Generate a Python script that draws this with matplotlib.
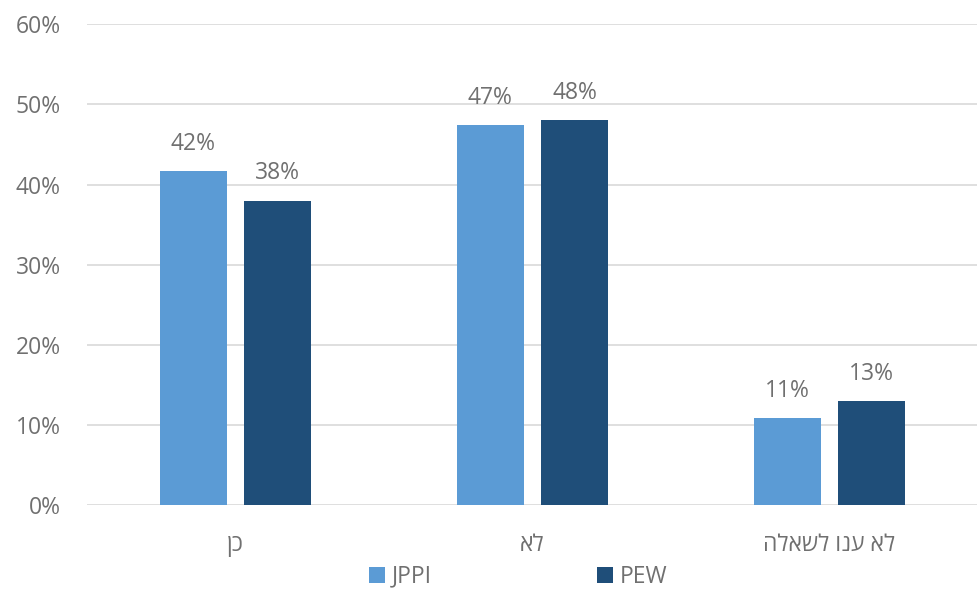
import matplotlib.pyplot as plt
import numpy as np
from matplotlib.ticker import PercentFormatter

plt.rcParams["font.family"] = ["Open Sans", "DejaVu Sans"]

categories = ["כן", "לא", "לא ענו לשאלה"]
series_names = ["JPPI", "PEW"]
jppi = [41.7, 47.4, 10.8]
pew = [38.0, 48.0, 13.0]
colors = ["#5B9BD5", "#1F4E79"]
text_color = "#707070"


def rtl(s):
    # matplotlib has no bidi support, so reverse Hebrew strings for display
    return s[::-1]


fig = plt.figure(figsize=(9.78, 5.92), dpi=100)
ax = fig.add_axes([0.089, 0.147, 0.911, 0.812])

x = np.arange(len(categories))
width = 0.225
offset = 0.1425
for i, (vals, name) in enumerate(zip([jppi, pew], series_names)):
    bars = ax.bar(x + (i * 2 - 1) * offset, vals, width, color=colors[i], label=name, zorder=3)
    ax.bar_label(bars, labels=[f"{round(v)}%" for v in vals], padding=11,
                 fontsize=16.5, color=text_color)

ax.set_xlim(-0.5, 2.5)
ax.set_ylim(0, 60)
ax.set_yticks(range(0, 61, 10))
ax.yaxis.set_major_formatter(PercentFormatter(decimals=0))
ax.set_xticks(x)
ax.set_xticklabels([rtl(c) for c in categories])
ax.grid(axis="y", color="#D9D9D9", linewidth=1.2, zorder=0)
for sp in ax.spines.values():
    sp.set_visible(False)
ax.tick_params(axis="both", length=0, labelsize=16.5, labelcolor=text_color)
ax.tick_params(axis="y", pad=19)
ax.tick_params(axis="x", pad=20)

fig.legend(loc="center", bbox_to_anchor=(0.53, 0.026), ncol=2, frameon=False,
           fontsize=16.5, labelcolor=text_color, handlelength=0.7, handleheight=0.7,
           handletextpad=0.3, columnspacing=7.2, borderpad=0.2)

fig.savefig("out.png", dpi=100)
